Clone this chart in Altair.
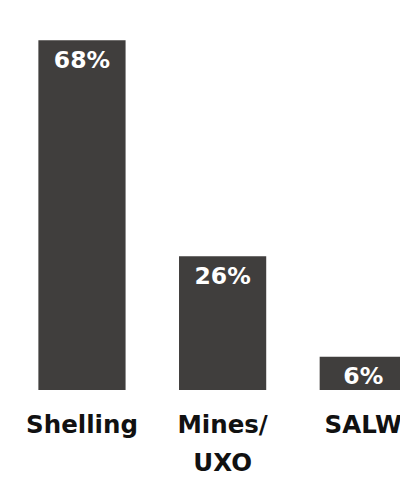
import altair as alt
import pandas as pd

categories = ["Shelling", "Mines/UXO", "SALW"]
values = [68, 26, 6.5]
labels = ["68%", "26%", "6%"]

df = pd.DataFrame({"category": categories, "value": values, "label": labels})

FONT = "DejaVu Sans"
BAR = "#403e3d"

x = alt.X(
    "category:N",
    sort=categories,
    scale=alt.Scale(domain=categories, range=[31, 407], paddingInner=0.38, paddingOuter=0),
    axis=alt.Axis(
        title=None, labelAngle=0, domain=False, ticks=False, grid=False,
        labelFont=FONT, labelFontSize=25, labelFontWeight="bold", labelColor="#111111",
        labelPadding=23, labelLineHeight=39, labelBaseline="top", labelOverlap=False,
        labelExpr="datum.value == 'Mines/UXO' ? ['Mines/', 'UXO'] : datum.label",
    ),
)
y = alt.Y("value:Q", scale=alt.Scale(domain=[0, 68 * 385 / 357], nice=False, zero=True), axis=None)

bars = alt.Chart(df).mark_bar(color=BAR, clip=True).encode(x=x, y=y)
text = alt.Chart(df).mark_text(
    color="white", font=FONT, fontSize=24, fontWeight="bold",
    baseline="alphabetic", dy=28, clip=True,
).encode(x=x, y=y, text="label:N")

chart = (
    alt.layer(bars, text)
    .properties(
        width=400, height=385, autosize="none",
        padding={"left": 0, "right": 0, "top": 0, "bottom": 94},
        background="white",
    )
    .configure_view(stroke=None)
)

chart.save("out.html", embed_options={"renderer": "svg", "actions": False})
